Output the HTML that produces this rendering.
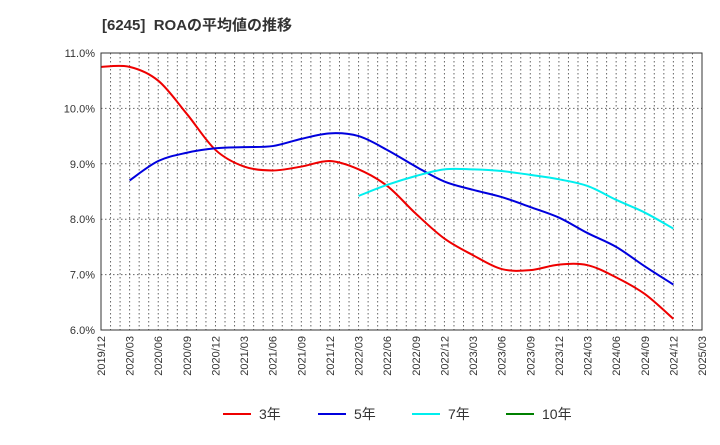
<!DOCTYPE html>
<html><head><meta charset="utf-8"><style>
body{margin:0;background:#fff;font-family:"Liberation Sans","Noto Sans CJK JP",sans-serif;}
</style></head><body>
<svg id="c" width="720" height="440" xmlns="http://www.w3.org/2000/svg">
<text x="102" y="30" font-size="15" font-weight="bold" fill="#333" xml:space="preserve">[6245]  ROAの平均値の推移</text>
<g id="grid"></g><g id="series"></g><g id="axes"></g>
<g id="legend"></g>
</svg>
<script>
const xLabels=["2019/12","2020/03","2020/06","2020/09","2020/12","2021/03","2021/06","2021/09","2021/12","2022/03","2022/06","2022/09","2022/12","2023/03","2023/06","2023/09","2023/12","2024/03","2024/06","2024/09","2024/12","2025/03"];
const yTicks=[6,7,8,9,10,11];
const s3=[10.75,10.75,10.5,9.9,9.25,8.95,8.88,8.95,9.05,8.9,8.6,8.1,7.65,7.35,7.1,7.08,7.18,7.17,6.95,6.65,6.2];
const s5=[null,8.7,9.05,9.2,9.28,9.3,9.32,9.45,9.55,9.5,9.25,8.95,8.68,8.53,8.4,8.22,8.03,7.75,7.5,7.15,6.82];
const s7=[null,null,null,null,null,null,null,null,null,8.42,8.62,8.78,8.9,8.9,8.87,8.8,8.72,8.6,8.35,8.12,7.83];
const s10=[];
const L=101,R=702,T=53,B=330;
const NS="http://www.w3.org/2000/svg";
const xs=i=>L+i*(R-L)/21, ys=v=>B-(v-6)*(B-T)/5;
function mk(tag,at,par){const e=document.createElementNS(NS,tag);for(const k in at)e.setAttribute(k,at[k]);document.getElementById(par).appendChild(e);return e;}
for(let m=1;m<63;m++){const x=L+m*(R-L)/63;const g=mk('line',{x1:x,x2:x,y1:T,y2:B,stroke:'#666','stroke-dasharray':'1.5,2.5','stroke-width':1},'grid');

}
yTicks.forEach(v=>{const y=ys(v);const g=mk('line',{x1:L,x2:R,y1:y,y2:y,stroke:'#666','stroke-dasharray':'1.5,2.5'},'grid');


const t=mk('text',{x:L-6,y:y+4,'text-anchor':'end','font-size':11,fill:'#333'},'axes');t.textContent=v.toFixed(1)+'%';

});
const fr=mk('rect',{x:L,y:T,width:R-L,height:B-T,fill:'none',stroke:'#333'},'axes');


xLabels.forEach((l,i)=>{const x=xs(i);const t=mk('text',{x:x+4,y:B+6,'text-anchor':'end','font-size':11,fill:'#333',transform:`rotate(-90 ${x+4} ${B+6})`},'axes');t.textContent=l;

});
function path(arr){const p=[];arr.forEach((v,i)=>{if(v!=null)p.push([xs(i),ys(v)]);});if(p.length<2)return '';
let d=`M${p[0][0]},${p[0][1]}`;for(let i=0;i<p.length-1;i++){const p0=p[i-1]||p[i],p1=p[i],p2=p[i+1],p3=p[i+2]||p2;
d+=` C${p1[0]+(p2[0]-p0[0])/6},${p1[1]+(p2[1]-p0[1])/6} ${p2[0]-(p3[0]-p1[0])/6},${p2[1]-(p3[1]-p1[1])/6} ${p2[0]},${p2[1]}`;}return d;}
const ser=[[s3,'#ee0000','3年','series-3yr'],[s5,'#0000dd','5年','series-5yr'],[s7,'#00eeee','7年','series-7yr'],[s10,'#008000','10年','series-10yr']];
ser.forEach(([a,c,n,nm],k)=>{const d=path(a);if(d){const p=mk('path',{d,fill:'none',stroke:c,'stroke-width':2},'series');

}
const lx=[223,318,412,506][k];
const ln=mk('line',{x1:lx,x2:lx+28,y1:414,y2:414,stroke:c,'stroke-width':2},'legend');


const t=mk('text',{x:lx+36,y:419,'font-size':14,fill:'#333'},'legend');t.textContent=n;

});
</script>
</body></html>
